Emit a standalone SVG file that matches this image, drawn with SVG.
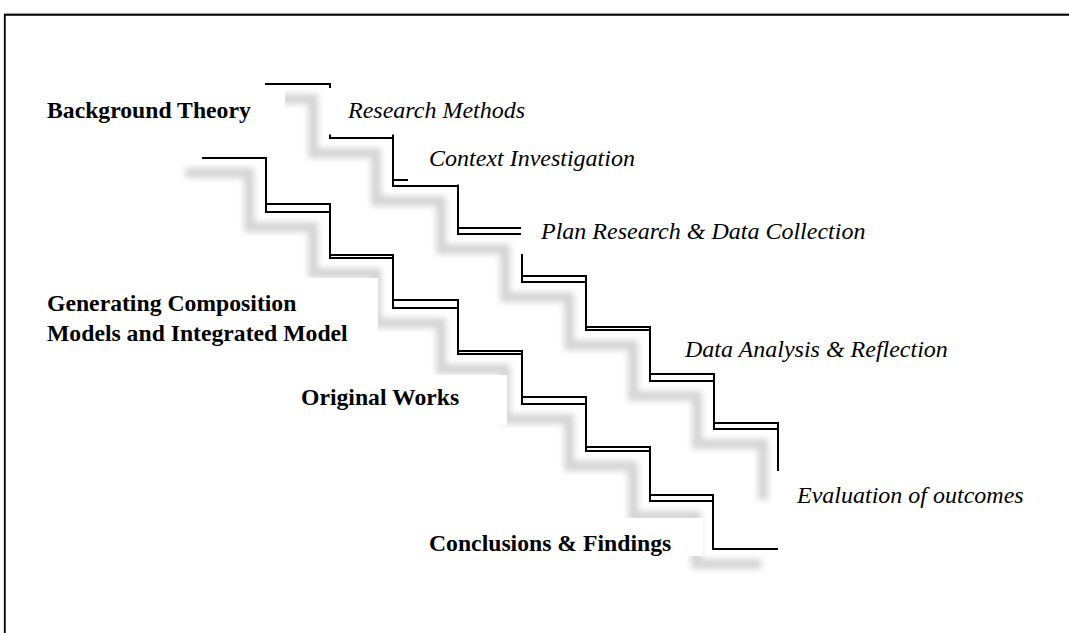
<svg xmlns="http://www.w3.org/2000/svg" width="1069" height="633" viewBox="0 0 1069 633">
<defs>
<filter id="blur" x="-20%" y="-20%" width="140%" height="140%"><feGaussianBlur stdDeviation="3.2"/></filter>
<style>
.frame{fill:none;stroke:#000;stroke-width:1.8}
.shadow{fill:none;stroke:#d4d4d4;stroke-width:10;filter:url(#blur)}
.stair{fill:none;stroke:#000;stroke-width:2}
.box{fill:#fff}
.b{font-family:"Liberation Serif","Times New Roman",serif;font-weight:bold;font-size:23.7px;fill:#000}
.i{font-family:"Liberation Serif","Times New Roman",serif;font-style:italic;font-size:24px;fill:#000}
</style>
</defs>
<rect width="1069" height="633" fill="#fff"/>
<line x1="4" y1="13.4" x2="1069" y2="13.4" stroke="#9a9a9a" stroke-width="1"/>
<path class="frame" d="M4.8,633 V14.8 H1069"/>
<g id="connectors">
<g id="shadows">
<path class="shadow" d="M248,99 H313 V153 H376 V201 H441 V249 H505 V297 H569 V345 H633 V396 H697 V444 H763 V500"/>
<path class="shadow" d="M185,173 H249 V227 H313 V273 H376 V323 H441 V369 H505 V419 H569 V466 H633 V516 H696 V564 H761"/>
</g>
<g id="upper-stair">
<path class="stair" d="M265,84 H330 V138 H393 V186 H458 V234 H522 V282 H586 V330 H650 V381 H714 V429 H778 V486"/>
<path class="stair" d="M330,133 H393 V138 M393,180 H458 V186 M458,228 H522 V234 M522,276 H586 V282 M586,327 H650 V330 M650,374 H714 V381 M714,423 H778 V429"/>
</g>
<g id="lower-stair">
<path class="stair" d="M202,158 H266 V212 H330 V258 H393 V308 H458 V354 H522 V404 H586 V451 H650 V501 H713 V549 H778"/>
<path class="stair" d="M266,204 H330 V212 M330,255 H393 V258 M393,300 H458 V308 M458,351 H522 V354 M522,397 H586 V404 M586,447 H650 V451 M650,495 H713 V501"/>
</g>
</g>
<g id="background-theory">
<rect class="box" x="40" y="90" width="245" height="45"/>
<text class="b" x="47" y="118">Background Theory</text>
</g>
<g id="research-methods">
<rect class="box" x="324" y="88" width="216" height="46.5"/>
<text class="i" x="348" y="118">Research Methods</text>
</g>
<g id="context-investigation">
<rect class="box" x="408" y="140" width="312" height="44.5"/>
<text class="i" x="429" y="165.5">Context Investigation</text>
</g>
<g id="plan-research">
<rect class="box" x="521" y="208" width="360" height="46"/>
<text class="i" x="541" y="238.5">Plan Research &amp; Data Collection</text>
</g>
<g id="generating-models">
<rect class="box" x="40" y="278" width="338" height="70"/>
<text class="b" x="47" y="310.5">Generating Composition</text>
<text class="b" x="47" y="340.5">Models and Integrated Model</text>
</g>
<g id="data-analysis">
<rect class="box" x="676" y="332" width="284" height="36"/>
<text class="i" x="685" y="357">Data Analysis &amp; Reflection</text>
</g>
<g id="original-works">
<rect class="box" x="290" y="375" width="217" height="50"/>
<text class="b" x="301" y="405">Original Works</text>
</g>
<g id="evaluation">
<rect class="box" x="777" y="471" width="283" height="44"/>
<text class="i" x="797" y="503">Evaluation of outcomes</text>
</g>
<g id="conclusions">
<rect class="box" x="420" y="518" width="283" height="38"/>
<text class="b" x="429" y="551">Conclusions &amp; Findings</text>
</g>
</svg>
